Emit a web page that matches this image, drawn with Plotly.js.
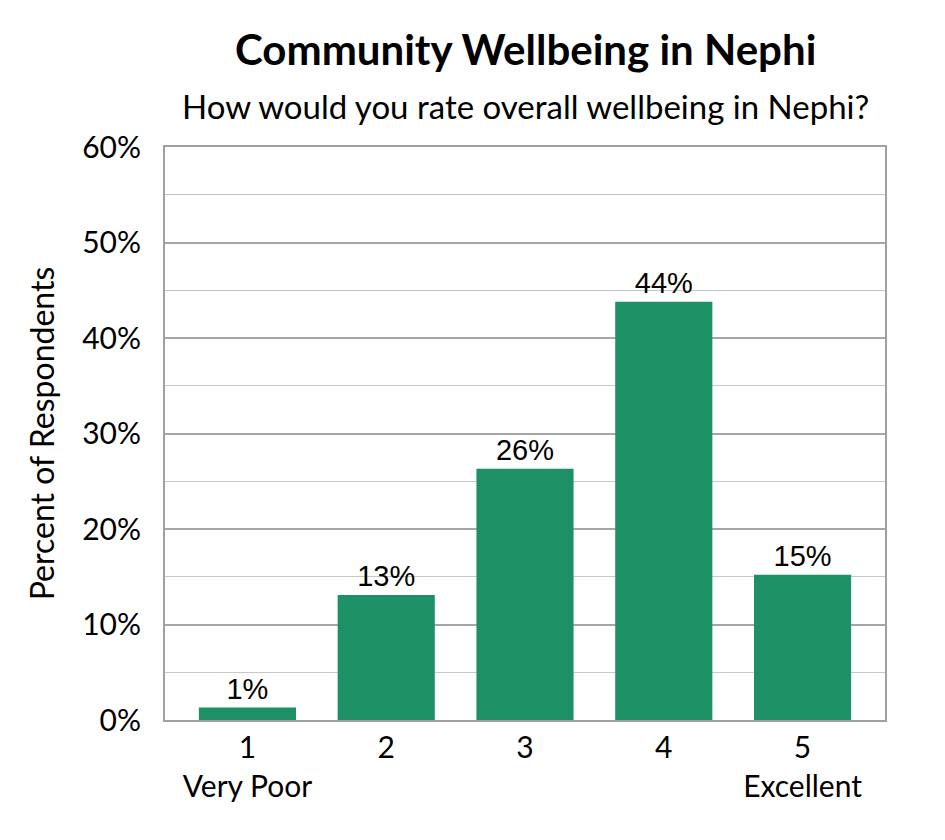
<!DOCTYPE html>
<html>
<head>
<meta charset="utf-8">
<script src="https://cdn.plot.ly/plotly-3.0.1.min.js"></script>
<style>html,body{margin:0;padding:0;background:#fff;}</style>
</head>
<body>
<div id="chart" style="width:945px;height:840px;"></div>
<script>
const categories = ["1", "2", "3", "4", "5"];
const categoryLabels = ["1<br>Very Poor", "2", "3", "4", "5<br>Excellent"];
const percentValues = [1.3, 13.1, 26.3, 43.8, 15.2];
const valueLabels = ["1%", "13%", "26%", "44%", "15%"];
const yTickValues = [0, 10, 20, 30, 40, 50, 60];
const yTickLabels = ["0%", "10%", "20%", "30%", "40%", "50%", "60%"];

const trace = {
  type: "bar",
  x: categories,
  y: percentValues,
  text: valueLabels,
  textposition: "outside",
  cliponaxis: false,
  width: 0.7,
  textfont: {family: "Liberation Sans, Arial, sans-serif", size: 29, color: "#000"},
  marker: {color: "#1e9065"},
  hoverinfo: "none"
};

const layout = {
  width: 945, height: 840,
  margin: {l: 165, r: 60, t: 147, b: 120},
  paper_bgcolor: "#fff", plot_bgcolor: "#fff",
  font: {family: "Lato, 'Open Sans', sans-serif", size: 30, color: "#000"},
  showlegend: false,
  xaxis: {
    type: "category",
    tickmode: "array", tickvals: categories, ticktext: categoryLabels,
    range: [-0.594, 4.594],
    showline: true, mirror: true, linecolor: "#a0a0a0", linewidth: 2,
    ticks: "", showgrid: false, zeroline: false,
    tickfont: {size: 30}
  },
  yaxis: {
    range: [0, 60], tickmode: "array", tickvals: yTickValues, ticktext: yTickLabels,
    showline: true, mirror: true, linecolor: "#a0a0a0", linewidth: 2,
    showgrid: true, gridcolor: "#a6a6a6", gridwidth: 2, zeroline: false,
    ticks: "", ticklabelstandoff: 16,
    minor: {dtick: 5, tick0: 0, showgrid: true, gridcolor: "#c8c8c8", gridwidth: 1, ticks: ""},
    tickfont: {size: 30},
    title: {text: "Percent of Respondents", font: {size: 32}, standoff: 18}
  },
  annotations: [
    {text: "<b>Community Wellbeing in Nephi</b>", xref: "paper", yref: "paper", x: 0.5, y: 1, yshift: 98,
     xanchor: "center", yanchor: "middle", showarrow: false, font: {size: 42}},
    {text: "How would you rate overall wellbeing in Nephi?", xref: "paper", yref: "paper", x: 0.5, y: 1, yshift: 41,
     xanchor: "center", yanchor: "middle", showarrow: false, font: {size: 33}}
  ]
};

Plotly.newPlot("chart", [trace], layout, {displayModeBar: false, staticPlot: true});
</script>
</body>
</html>
